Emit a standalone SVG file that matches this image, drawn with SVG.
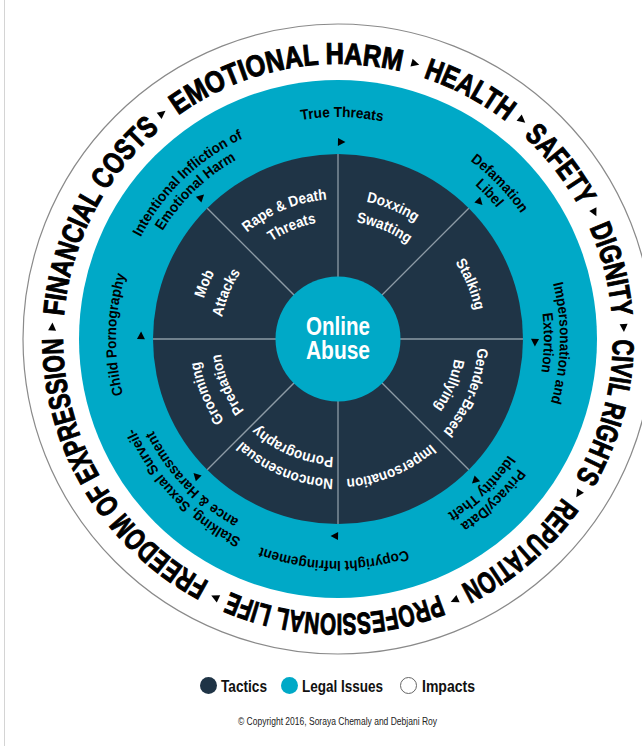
<svg xmlns="http://www.w3.org/2000/svg" xmlns:xlink="http://www.w3.org/1999/xlink" width="642" height="746" viewBox="0 0 642 746">
  <style>
    .imp { font-family: "Liberation Sans", Arial, sans-serif; font-weight: 900; font-size: 30px; fill: #000; stroke: #000; stroke-width: 1px; }
    .law { font-family: "Liberation Sans", Arial, sans-serif; font-weight: bold; font-size: 14.5px; fill: #000; }
    .tac { font-family: "Liberation Sans", Arial, sans-serif; font-weight: bold; font-size: 15px; fill: #fff; }
    .hub { font-family: "Liberation Sans", Arial, sans-serif; font-weight: bold; font-size: 25px; fill: #fff; }
    .key { font-family: "Liberation Sans", Arial, sans-serif; font-weight: bold; font-size: 16px; fill: #111; }
    .note { font-family: "Liberation Sans", Arial, sans-serif; font-size: 10px; fill: #222; }
    .divider { stroke: #8d9ba6; stroke-width: 1.3; fill: none; }
    .mark { fill: #000; }
  </style>
  <defs>
    <!-- baseline circles: start at the 9 o'clock point, run clockwise twice -->
    <path id="r275" d="M63,339 A275,275 0 1 1 613,339 A275,275 0 1 1 63,339 A275,275 0 1 1 613,339 A275,275 0 1 1 63,339"/>
    <path id="r222" d="M116,339 A222,222 0 1 1 560,339 A222,222 0 1 1 116,339 A222,222 0 1 1 560,339 A222,222 0 1 1 116,339"/>
    <path id="r206" d="M132,339 A206,206 0 1 1 544,339 A206,206 0 1 1 132,339 A206,206 0 1 1 544,339 A206,206 0 1 1 132,339"/>
    <path id="r140" d="M198,339 A140,140 0 1 1 478,339 A140,140 0 1 1 198,339 A140,140 0 1 1 478,339 A140,140 0 1 1 198,339"/>
    <path id="r118" d="M220,339 A118,118 0 1 1 456,339 A118,118 0 1 1 220,339 A118,118 0 1 1 456,339 A118,118 0 1 1 220,339"/>
    <!-- clockwise pointers, drawn at 12 o'clock and rotated into place -->
    <path id="tri-outer" class="mark" d="M334.5,49 L342.5,53 L334.5,57 Z"/>
    <path id="tri-legal" class="mark" d="M334.5,138 L342,142 L334.5,146 Z"/>
  </defs>

  <rect width="642" height="746" fill="#fff"/>
  <line x1="4.5" y1="0" x2="4.5" y2="746" stroke="#d4d4d4" stroke-width="1"/>

  <!-- impacts ring -->
  <g id="impacts">
    <circle cx="338" cy="339" r="315" fill="#fff" stroke="#8a8a8a" stroke-width="1.2"/>
    <text class="imp"><textPath href="#r275" startOffset="23.0" textLength="215.0" lengthAdjust="spacingAndGlyphs">FINANCIAL COSTS</textPath></text>
    <text class="imp"><textPath href="#r275" startOffset="261.1" textLength="234.2" lengthAdjust="spacingAndGlyphs">EMOTIONAL HARM</textPath></text>
    <text class="imp"><textPath href="#r275" startOffset="518.4" textLength="94.1" lengthAdjust="spacingAndGlyphs">HEALTH</textPath></text>
    <text class="imp"><textPath href="#r275" startOffset="635.5" textLength="90.2" lengthAdjust="spacingAndGlyphs">SAFETY</textPath></text>
    <text class="imp"><textPath href="#r275" startOffset="748.8" textLength="92.2" lengthAdjust="spacingAndGlyphs">DIGNITY</textPath></text>
    <text class="imp"><textPath href="#r275" startOffset="863.9" textLength="145.4" lengthAdjust="spacingAndGlyphs">CIVIL RIGHTS</textPath></text>
    <text class="imp"><textPath href="#r275" startOffset="1032.4" textLength="136.3" lengthAdjust="spacingAndGlyphs">REPUTATION</textPath></text>
    <text class="imp"><textPath href="#r275" startOffset="1191.8" textLength="214.5" lengthAdjust="spacingAndGlyphs">PROFESSIONAL LIFE</textPath></text>
    <text class="imp"><textPath href="#r275" startOffset="1429.3" textLength="298.5" lengthAdjust="spacingAndGlyphs">FREEDOM OF EXPRESSION</textPath></text>
    <g id="impact-pointers">
      <use href="#tri-outer" transform="rotate(-87.6 338 339)"/>
      <use href="#tri-outer" transform="rotate(-38 338 339)"/>
      <use href="#tri-outer" transform="rotate(15.6 338 339)"/>
      <use href="#tri-outer" transform="rotate(40 338 339)"/>
      <use href="#tri-outer" transform="rotate(63.7 338 339)"/>
      <use href="#tri-outer" transform="rotate(87.7 338 339)"/>
      <use href="#tri-outer" transform="rotate(122.7 338 339)"/>
      <use href="#tri-outer" transform="rotate(155.9 338 339)"/>
      <use href="#tri-outer" transform="rotate(205.4 338 339)"/>
    </g>
  </g>

  <!-- legal issues ring -->
  <g id="legal-issues">
    <circle cx="338" cy="339" r="259" fill="#00a9c7"/>
    <g id="legal-true-threats">
      <text class="law"><textPath href="#r222" startOffset="311.7" textLength="81.8" lengthAdjust="spacingAndGlyphs">True Threats</textPath></text>
    </g>
    <g id="legal-emotional-harm">
      <text class="law"><textPath href="#r222" startOffset="105.8" textLength="144.8" lengthAdjust="spacingAndGlyphs">Intentional Infliction of</textPath></text>
      <text class="law"><textPath href="#r206" startOffset="113.6" textLength="103.5" lengthAdjust="spacingAndGlyphs">Emotional Harm</textPath></text>
    </g>
    <g id="legal-defamation">
      <text class="law"><textPath href="#r222" startOffset="490.2" textLength="73.5" lengthAdjust="spacingAndGlyphs">Defamation</textPath></text>
      <text class="law"><textPath href="#r206" startOffset="473.2" textLength="31.5" lengthAdjust="spacingAndGlyphs">Libel</textPath></text>
    </g>
    <g id="legal-extortion">
      <text class="law"><textPath href="#r222" startOffset="640.9" textLength="120.8" lengthAdjust="spacingAndGlyphs">Impersonation and</textPath></text>
      <text class="law"><textPath href="#r206" startOffset="621.1" textLength="59.3" lengthAdjust="spacingAndGlyphs">Extortion</textPath></text>
    </g>
    <g id="legal-privacy">
      <text class="law"><textPath href="#r222" startOffset="835.2" textLength="81.0" lengthAdjust="spacingAndGlyphs">Privacy/Data</textPath></text>
      <text class="law"><textPath href="#r206" startOffset="770.2" textLength="84.8" lengthAdjust="spacingAndGlyphs">Identity Theft</textPath></text>
    </g>
    <g id="legal-copyright">
      <text class="law"><textPath href="#r222" startOffset="975.4" textLength="149.3" lengthAdjust="spacingAndGlyphs">Copyright Infringement</textPath></text>
    </g>
    <g id="legal-surveillance">
      <text class="law"><textPath href="#r222" startOffset="1145.9" textLength="156.8" lengthAdjust="spacingAndGlyphs">Stalking, Sexual Surveil-</textPath></text>
      <text class="law"><textPath href="#r206" startOffset="1073.5" textLength="125.3" lengthAdjust="spacingAndGlyphs">ance &amp; Harassment</textPath></text>
    </g>
    <g id="legal-child">
      <text class="law"><textPath href="#r222" startOffset="1338.0" textLength="121.5" lengthAdjust="spacingAndGlyphs">Child Pornography</textPath></text>
    </g>
    <g id="legal-pointers">
      <use href="#tri-legal" transform="rotate(1 338 339)"/>
      <use href="#tri-legal" transform="rotate(46 338 339)"/>
      <use href="#tri-legal" transform="rotate(91 338 339)"/>
      <use href="#tri-legal" transform="rotate(136 338 339)"/>
      <use href="#tri-legal" transform="rotate(181 338 339)"/>
      <use href="#tri-legal" transform="rotate(226 338 339)"/>
      <use href="#tri-legal" transform="rotate(271 338 339)"/>
      <use href="#tri-legal" transform="rotate(316 338 339)"/>
    </g>
  </g>

  <!-- tactics disc -->
  <g id="tactics">
    <circle cx="338" cy="339" r="185" fill="#1f3446"/>
  </g>

  <!-- sector dividers -->
  <g id="connectors">
    <line class="divider" x1="338" y1="154" x2="338" y2="524"/>
    <line class="divider" x1="153" y1="339" x2="523" y2="339"/>
    <line class="divider" x1="207.2" y1="208.2" x2="468.8" y2="469.8"/>
    <line class="divider" x1="468.8" y1="208.2" x2="207.2" y2="469.8"/>
  </g>

  <g id="tactic-rape-threats">
    <text class="tac"><textPath href="#r140" startOffset="121.0" textLength="87.8" lengthAdjust="spacingAndGlyphs">Rape &amp; Death</textPath></text>
    <text class="tac"><textPath href="#r118" startOffset="114.6" textLength="48.8" lengthAdjust="spacingAndGlyphs">Threats</textPath></text>
  </g>
  <g id="tactic-doxxing">
    <text class="tac"><textPath href="#r140" startOffset="248.3" textLength="53.3" lengthAdjust="spacingAndGlyphs">Doxxing</textPath></text>
    <text class="tac"><textPath href="#r118" startOffset="203.5" textLength="56.3" lengthAdjust="spacingAndGlyphs">Swatting</textPath></text>
  </g>
  <g id="tactic-stalking">
    <text class="tac"><textPath href="#r140" startOffset="358.6" textLength="52.5" lengthAdjust="spacingAndGlyphs">Stalking</textPath></text>
  </g>
  <g id="tactic-bullying">
    <text class="tac"><textPath href="#r140" startOffset="448.7" textLength="92.3" lengthAdjust="spacingAndGlyphs">Gender-Based</textPath></text>
    <text class="tac"><textPath href="#r118" startOffset="390.4" textLength="53.3" lengthAdjust="spacingAndGlyphs">Bullying</textPath></text>
  </g>
  <g id="tactic-impersonation">
    <text class="tac"><textPath href="#r140" startOffset="558.3" textLength="93.0" lengthAdjust="spacingAndGlyphs">Impersonation</textPath></text>
  </g>
  <g id="tactic-nonconsensual">
    <text class="tac"><textPath href="#r140" startOffset="664.5" textLength="100.5" lengthAdjust="spacingAndGlyphs">Nonconsensual</textPath></text>
    <text class="tac"><textPath href="#r118" startOffset="560.4" textLength="84.0" lengthAdjust="spacingAndGlyphs">Pornography</textPath></text>
  </g>
  <g id="tactic-grooming">
    <text class="tac"><textPath href="#r140" startOffset="792.4" textLength="64.5" lengthAdjust="spacingAndGlyphs">Grooming</textPath></text>
    <text class="tac"><textPath href="#r118" startOffset="664.0" textLength="62.3" lengthAdjust="spacingAndGlyphs">Predation</textPath></text>
  </g>
  <g id="tactic-mob">
    <text class="tac"><textPath href="#r140" startOffset="41.1" textLength="27.7" lengthAdjust="spacingAndGlyphs">Mob</textPath></text>
    <text class="tac"><textPath href="#r118" startOffset="21.9" textLength="48.8" lengthAdjust="spacingAndGlyphs">Attacks</textPath></text>
  </g>

  <!-- hub -->
  <g id="online-abuse">
    <circle cx="338" cy="339" r="62.5" fill="#00a9c7"/>
    <text class="hub" x="338" y="335" text-anchor="middle" textLength="64" lengthAdjust="spacingAndGlyphs">Online</text>
    <text class="hub" x="338" y="359" text-anchor="middle" textLength="64" lengthAdjust="spacingAndGlyphs">Abuse</text>
  </g>

  <!-- legend -->
  <g id="legend">
    <circle cx="208.5" cy="685.5" r="8.5" fill="#1f3446"/>
    <text class="key" x="221" y="692" textLength="46" lengthAdjust="spacingAndGlyphs">Tactics</text>
    <circle cx="289.5" cy="685.5" r="8.5" fill="#00a9c7"/>
    <text class="key" x="302" y="692" textLength="81" lengthAdjust="spacingAndGlyphs">Legal Issues</text>
    <circle cx="408.5" cy="685.5" r="8" fill="#fff" stroke="#666" stroke-width="1"/>
    <text class="key" x="422" y="692" textLength="53" lengthAdjust="spacingAndGlyphs">Impacts</text>
  </g>
  <text class="note" x="238" y="725" textLength="199" lengthAdjust="spacingAndGlyphs">© Copyright 2016, Soraya Chemaly and Debjani Roy</text>
</svg>
